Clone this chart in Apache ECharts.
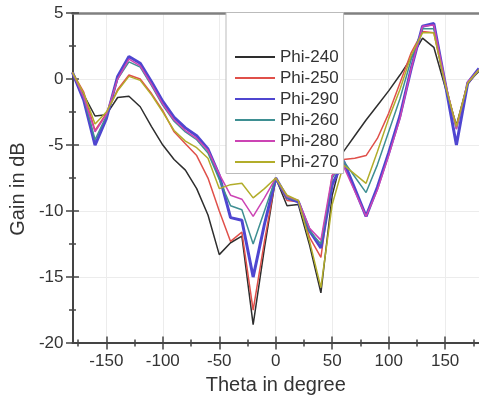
<!DOCTYPE html>
<html>
<head>
<meta charset="utf-8">
<script src="https://cdn.jsdelivr.net/npm/echarts@6/dist/echarts.min.js"></script>
<style>html,body{margin:0;padding:0;background:#fff}#c{width:479px;height:400px}</style>
</head>
<body>
<div id="c"></div>
<script>
const thetas = [-180,-170,-160,-150,-140,-130,-120,-110,-100,-90,-80,-70,-60,-50,-40,-30,-20,-10,0,10,20,30,40,50,60,70,80,90,100,110,120,130,140,150,160,170,180];
const phi240 = [0.5,-1.2,-2.8,-2.7,-1.4,-1.3,-2.1,-3.6,-5.0,-6.1,-6.9,-8.3,-10.3,-13.3,-12.4,-11.9,-18.6,-12.8,-7.5,-9.6,-9.5,-12.6,-16.2,-8.8,-5.5,-4.3,-3.1,-2.0,-0.9,0.3,1.6,3.1,2.4,-0.6,-3.5,-0.3,0.6];
const phi250 = [0.5,-1.0,-3.9,-2.6,-0.8,0.3,0.0,-1.1,-2.4,-4.0,-4.9,-5.8,-7.5,-10.0,-12.3,-11.6,-17.5,-12.3,-7.5,-9.2,-9.3,-12.0,-13.5,-7.3,-6.1,-6.0,-5.8,-4.5,-2.6,-0.3,2.0,3.6,3.5,-0.4,-3.6,-0.4,0.7];
const phi290 = [0.5,-1.6,-5.0,-3.0,0.2,1.7,1.2,-0.2,-1.7,-2.9,-3.7,-4.3,-5.3,-7.3,-10.5,-10.7,-15.0,-11.0,-7.5,-9.0,-9.3,-11.5,-12.8,-8.0,-6.2,-8.3,-10.4,-8.2,-5.6,-2.8,0.8,4.0,4.2,-0.3,-5.0,-0.3,0.8];
const phi260 = [0.5,-1.4,-4.6,-2.8,0.0,1.3,0.9,-0.5,-2.0,-3.2,-4.0,-4.6,-5.6,-7.6,-9.6,-9.9,-12.5,-10.0,-7.5,-9.0,-9.2,-11.5,-12.5,-7.5,-6.2,-7.4,-8.6,-6.5,-4.0,-1.5,1.5,3.8,3.8,-0.3,-3.8,-0.3,0.7];
const phi280 = [0.5,-1.4,-4.0,-2.7,0.0,1.5,1.0,-0.4,-1.9,-3.1,-3.9,-4.5,-5.4,-7.2,-8.8,-9.1,-10.4,-9.0,-7.5,-8.9,-9.2,-11.3,-12.2,-7.3,-6.6,-8.5,-10.4,-8.4,-5.8,-3.0,0.8,4.0,4.1,-0.2,-3.8,-0.2,0.7];
const phi270 = [0.5,-1.1,-3.4,-2.5,-0.9,0.2,-0.1,-1.2,-2.5,-3.9,-4.7,-5.2,-6.0,-8.3,-8.0,-7.9,-9.0,-8.3,-7.5,-8.8,-9.2,-12.3,-15.8,-9.5,-6.5,-7.2,-7.9,-5.5,-3.0,-0.8,1.8,3.5,3.5,-0.4,-3.6,-0.3,0.7];
const xMajorTicks = [-150,-100,-50,0,50,100,150];
const xMinorTicks = [-175,-125,-75,-25,25,75,125,175];
const yMinorTicks = [-17.5,-12.5,-7.5,-2.5,2.5];

const seriesDefs = [
  {name:'Phi-240', data:phi240, color:'#2e2e2e', width:1.5},
  {name:'Phi-250', data:phi250, color:'#e0504a', width:1.5},
  {name:'Phi-290', data:phi290, color:'#4f46d0', width:3},
  {name:'Phi-260', data:phi260, color:'#3e8f92', width:1.5},
  {name:'Phi-280', data:phi280, color:'#cc44b4', width:1.5},
  {name:'Phi-270', data:phi270, color:'#b2ad2a', width:1.5}
];

const FONT = 'Liberation Sans, Arial, sans-serif';
const AX = '#444';
const hidden = {show:false};

const chart = echarts.init(document.getElementById('c'), null, {renderer:'canvas'});
chart.setOption({
  animation:false,
  backgroundColor:'#fff',
  textStyle:{fontFamily:FONT},
  grid:{left:71, right:-5, top:13, bottom:54, containLabel:false},
  legend:{
    orient:'vertical', left:226, top:12.5,
    padding:[36,5,3,8], itemGap:4, itemWidth:40, itemHeight:14,
    backgroundColor:'#fff', borderColor:'#bbb', borderWidth:1,
    itemStyle:{color:'rgba(0,0,0,0)', borderColor:'rgba(0,0,0,0)', borderWidth:0, opacity:0},
    textStyle:{fontSize:17, color:'#333', fontFamily:FONT},
    data:seriesDefs.map(s=>s.name)
  },
  xAxis:[
    {type:'value', min:-180, max:180, splitNumber:7, position:'bottom',
     axisLine:{onZero:false, lineStyle:{color:AX, width:2}},
     axisTick:hidden,
     axisLabel:{customValues:xMajorTicks, fontSize:17, color:'#333', margin:10, fontFamily:FONT},
     splitLine:{show:true, lineStyle:{color:'#ececec', width:1}},
     name:'Theta in degree', nameLocation:'middle', nameGap:29,
     nameTextStyle:{fontSize:20, color:'#333', fontFamily:FONT}},
    {type:'value', min:-180, max:180, position:'bottom', offset:6.5,
     axisLine:{show:false, onZero:false}, axisLabel:hidden, splitLine:hidden,
     axisTick:{show:true, inside:true, length:13, customValues:xMajorTicks, lineStyle:{color:AX, width:1.5}}},
    {type:'value', min:-180, max:180, position:'bottom', offset:3.5,
     axisLine:{show:false, onZero:false}, axisLabel:hidden, splitLine:hidden,
     axisTick:{show:true, inside:true, length:7, customValues:xMinorTicks, lineStyle:{color:AX, width:1.5}}},
    {type:'value', min:-180, max:180, position:'top',
     axisLine:{show:true, onZero:false, lineStyle:{color:'#808080', width:2.5}},
     axisTick:hidden, axisLabel:hidden, splitLine:hidden}
  ],
  yAxis:[
    {type:'value', min:-20, max:5, interval:5, position:'left',
     axisLine:{show:true, onZero:false, lineStyle:{color:AX, width:2}},
     axisTick:hidden,
     axisLabel:{fontSize:17, color:'#333', margin:9, fontFamily:FONT},
     splitLine:{show:true, lineStyle:{color:'#ececec', width:1}},
     name:'Gain in dB', nameLocation:'middle', nameGap:40,
     nameTextStyle:{fontSize:20, color:'#333', fontFamily:FONT, padding:[0,22,0,0]}},
    {type:'value', min:-20, max:5, interval:5, position:'left', offset:6.5,
     axisLine:{show:false, onZero:false}, axisLabel:hidden, splitLine:hidden,
     axisTick:{show:true, inside:true, length:13, lineStyle:{color:AX, width:1.5}}},
    {type:'value', min:-20, max:5, position:'left', offset:3.5,
     axisLine:{show:false, onZero:false}, axisLabel:hidden, splitLine:hidden,
     axisTick:{show:true, inside:true, length:7, customValues:yMinorTicks, lineStyle:{color:AX, width:1.5}}}
  ],
  series:seriesDefs.map(s=>({
    name:s.name, type:'line', symbol:'none', smooth:false,
    xAxisIndex:0, yAxisIndex:0,
    data:thetas.map((t,i)=>[t, s.data[i]]),
    lineStyle:{color:s.color, width:s.width},
    itemStyle:{color:s.color}
  }))
});
</script>
</body>
</html>
